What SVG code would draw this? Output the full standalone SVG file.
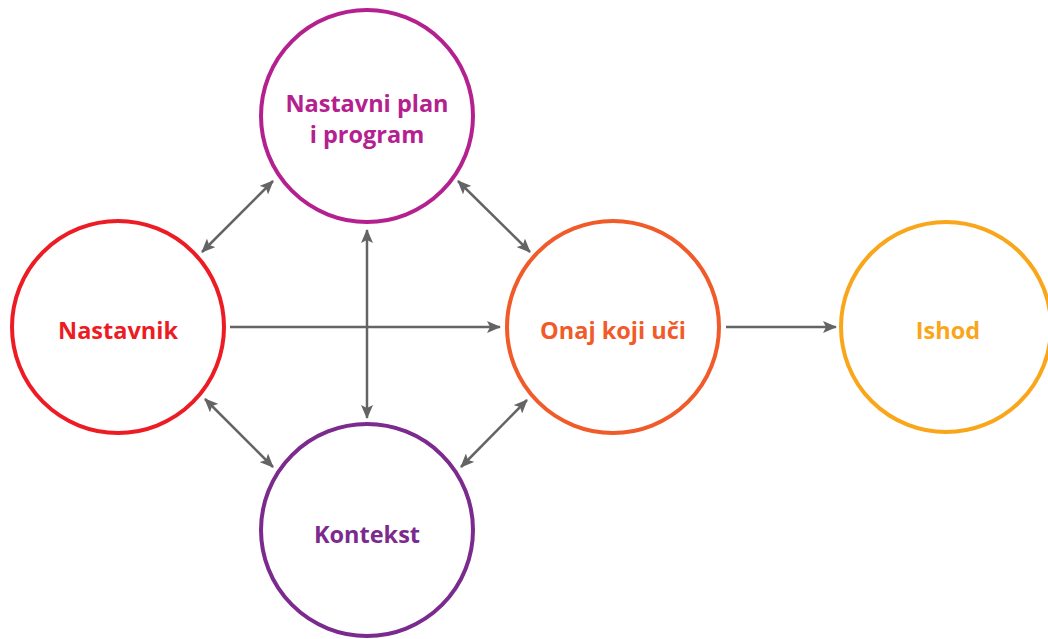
<svg xmlns="http://www.w3.org/2000/svg" width="1048" height="639" viewBox="0 0 1048 639">
<defs>
<marker id="ah" viewBox="0 0 14 12" refX="13" refY="6" markerWidth="14" markerHeight="12" markerUnits="userSpaceOnUse" orient="auto-start-reverse">
<path d="M0,0 L14,6 L0,12 L3,6 Z" fill="#646466"/>
</marker>
<style>
.c{fill:#fff;stroke-width:4}
.t{font-family:"Open Sans","Noto Sans","Liberation Sans",sans-serif;font-weight:bold;font-size:23.5px;text-anchor:middle}
.a{stroke:#646466;stroke-width:2.5;fill:none}
</style>
</defs>
<rect width="1048" height="639" fill="#fff"/>
<g id="connectors">
<line class="a" x1="230" y1="327" x2="500" y2="327" marker-end="url(#ah)"/>
<line class="a" x1="726" y1="327" x2="836" y2="327" marker-end="url(#ah)"/>
<line class="a" x1="367" y1="230" x2="367" y2="418" marker-start="url(#ah)" marker-end="url(#ah)"/>
<line class="a" x1="202" y1="252" x2="273" y2="181" marker-start="url(#ah)" marker-end="url(#ah)"/>
<line class="a" x1="458" y1="181" x2="530" y2="252" marker-start="url(#ah)" marker-end="url(#ah)"/>
<line class="a" x1="205" y1="399" x2="273" y2="467" marker-start="url(#ah)" marker-end="url(#ah)"/>
<line class="a" x1="527" y1="400" x2="461" y2="467" marker-start="url(#ah)" marker-end="url(#ah)"/>
</g>
<g id="plan">
<circle class="c" cx="367" cy="116" r="106" stroke="#B5208F" fill="none"/>
<text class="t" fill="#B5208F" x="367" y="112">Nastavni plan</text>
<text class="t" fill="#B5208F" x="367" y="143">i program</text>
</g>
<g id="nastavnik">
<circle class="c" cx="118" cy="327" r="106" stroke="#ED1C24" fill="none"/>
<text class="t" fill="#ED1C24" x="118" y="339">Nastavnik</text>
</g>
<g id="onaj">
<circle class="c" cx="613" cy="327" r="106" stroke="#F15A29" fill="none"/>
<text class="t" fill="#F15A29" x="613" y="339">Onaj koji uči</text>
</g>
<g id="ishod">
<circle class="c" cx="946" cy="327" r="105" stroke="#FAA61A" fill="none"/>
<text class="t" fill="#FAA61A" x="948" y="339">Ishod</text>
</g>
<g id="kontekst">
<circle class="c" cx="367" cy="530" r="106" stroke="#7B2A8E" fill="none"/>
<text class="t" fill="#7B2A8E" x="367" y="543">Kontekst</text>
</g>
</svg>
